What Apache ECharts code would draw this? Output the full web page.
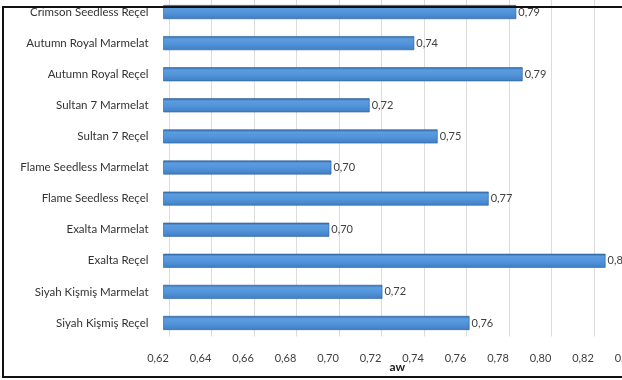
<!DOCTYPE html>
<html>
<head>
<meta charset="utf-8">
<script src="https://cdn.jsdelivr.net/npm/echarts@6/dist/echarts.min.js"></script>
<style>
  html, body { margin: 0; padding: 0; background: #fff; }
  #awChart { width: 622px; height: 380px; }
</style>
</head>
<body>
<div id="awChart"></div>
<script>
// varieties, top to bottom
const categories = [
  'Crimson Seedless Reçel',
  'Autumn Royal Marmelat',
  'Autumn Royal Reçel',
  'Sultan 7 Marmelat',
  'Sultan 7 Reçel',
  'Flame Seedless Marmelat',
  'Flame Seedless Reçel',
  'Exalta Marmelat',
  'Exalta Reçel',
  'Siyah Kişmiş Marmelat',
  'Siyah Kişmiş Reçel'
]
const awValues = [0.786, 0.738, 0.789, 0.717, 0.749, 0.699, 0.773, 0.698, 0.828, 0.723, 0.764]
const xMin = 0.62
const xMax = 0.84
const xStep = 0.02

const fmt = (v) => v.toFixed(2).replace('.', ',')

const initAwChart = () => {
  const awChart = echarts.init(document.getElementById('awChart'))
  const barFill = new echarts.graphic.LinearGradient(0, 0, 0, 1, [
    { offset: 0, color: '#2f68a8' },
    { offset: 0.2, color: '#5c9de0' },
    { offset: 0.55, color: '#5293da' },
    { offset: 1, color: '#3f7ec4' }
  ])
  const awOption = {
    animation: false,
    textStyle: { fontFamily: 'Lato' },
    grid: [
      { left: 163.5, width: 467.5, top: -3.5, height: 342, outerBoundsMode: 'none' },
      // back wall gridlines (3d offset)
      { left: 169, width: 467.5, top: -3.5, height: 340, outerBoundsMode: 'none' }
    ],
    xAxis: [
      {
        type: 'value',
        gridIndex: 0,
        min: xMin,
        max: xMax,
        interval: xStep,
        axisLine: { show: false },
        axisTick: { show: false },
        splitLine: { show: false },
        axisLabel: {
          color: '#404040',
          fontSize: 11,
          margin: 14,
          padding: [0, 11, 0, 0],
          formatter: (v) => fmt(v)
        },
        name: 'aw',
        nameLocation: 'middle',
        nameGap: 23,
        nameMoveOverlap: false,
        nameTextStyle: { color: '#222', fontSize: 12, fontWeight: 'bold' }
      },
      {
        type: 'value',
        gridIndex: 1,
        min: xMin,
        max: xMax,
        interval: xStep,
        axisLine: { show: false },
        axisTick: { show: false },
        axisLabel: { show: false },
        splitLine: { show: true, lineStyle: { color: '#dcdcdc', width: 1 } }
      }
    ],
    yAxis: [
      {
        type: 'category',
        gridIndex: 0,
        data: categories,
        inverse: true,
        axisLine: { show: false },
        axisTick: { show: false },
        axisLabel: { color: '#333', fontSize: 11.5, margin: 15 }
      },
      {
        type: 'category',
        gridIndex: 1,
        data: categories,
        show: false
      }
    ],
    series: [
      {
        name: 'aw',
        type: 'bar',
        xAxisIndex: 0,
        yAxisIndex: 0,
        data: awValues,
        barWidth: 14,
        itemStyle: {
          color: barFill,
          borderColor: '#2c5d94',
          borderWidth: 0.6
        },
        label: {
          show: true,
          position: 'right',
          distance: 2,
          color: '#404040',
          fontSize: 11,
          formatter: (p) => fmt(p.value)
        }
      }
    ],
    graphic: [
      {
        type: 'rect',
        shape: { x: 3, y: 7, width: 660, height: 370 },
        style: { fill: 'none', stroke: '#111', lineWidth: 2 },
        z: 100
      }
    ]
  }
  awChart.setOption(awOption)
}

initAwChart()
</script>
</body>
</html>
